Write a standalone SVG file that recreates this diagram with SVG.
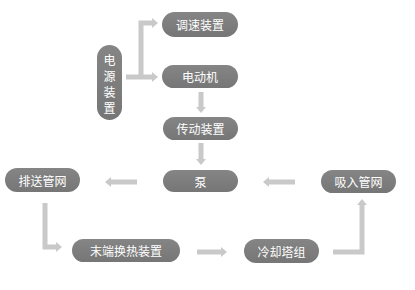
<svg xmlns="http://www.w3.org/2000/svg" width="415" height="290" viewBox="0 0 415 290">
<style>
.n rect{fill:url(#g);}
.n text{fill:#ffffff;font-family:"Noto Sans CJK SC","Liberation Sans",sans-serif;font-size:12px;text-anchor:middle;dominant-baseline:central;}
.c path{fill:none;stroke:#c9c9c9;stroke-width:5;}
</style>
<defs>
<linearGradient id="g" x1="0" y1="0" x2="0" y2="1">
<stop offset="0" stop-color="#858585"/>
<stop offset="1" stop-color="#767676"/>
</linearGradient>
<marker id="a" viewBox="0 0 6 10" refX="0" refY="5" markerWidth="6" markerHeight="10" markerUnits="userSpaceOnUse" orient="auto">
<path d="M0,0 L6,5 L0,10 Z" fill="#c9c9c9"/>
</marker>
</defs>
<rect width="415" height="290" fill="#ffffff"/>
<g class="c" id="connectors">
<path d="M126,77 H152" marker-end="url(#a)"/>
<path d="M141,77 V23 H152" marker-end="url(#a)"/>
<path d="M201,92 V107" marker-end="url(#a)"/>
<path d="M201,143 V159" marker-end="url(#a)"/>
<path d="M295,182 H269" marker-end="url(#a)"/>
<path d="M137,182 H111" marker-end="url(#a)"/>
<path d="M45,203 V247 H56" marker-end="url(#a)"/>
<path d="M197,252 H221" marker-end="url(#a)"/>
<path d="M333,252 H362 V205" marker-end="url(#a)"/>
</g>
<g class="n" id="n_power"><rect x="97" y="45" width="25" height="75" rx="12.5"/>
<text x="109.5" y="59">电</text><text x="109.5" y="75">源</text><text x="109.5" y="91">装</text><text x="109.5" y="107">置</text></g>
<g class="n" id="n_speed"><rect x="162" y="12" width="76" height="25" rx="12.5"/><text x="200" y="24.5">调速装置</text></g>
<g class="n" id="n_motor"><rect x="162" y="65" width="76" height="23" rx="11.5"/><text x="200" y="76.5">电动机</text></g>
<g class="n" id="n_trans"><rect x="163" y="117" width="75" height="23" rx="11.5"/><text x="200.5" y="128.5">传动装置</text></g>
<g class="n" id="n_pump"><rect x="163" y="170" width="75" height="22" rx="11"/><text x="200.5" y="181">泵</text></g>
<g class="n" id="n_out"><rect x="5" y="168" width="75" height="24" rx="12"/><text x="42.5" y="180">排送管网</text></g>
<g class="n" id="n_in"><rect x="321" y="170" width="75" height="23" rx="11.5"/><text x="358.5" y="181.5">吸入管网</text></g>
<g class="n" id="n_end"><rect x="72" y="239" width="108" height="23" rx="11.5"/><text x="126" y="250.5">末端换热装置</text></g>
<g class="n" id="n_cool"><rect x="244" y="239" width="75" height="24" rx="12"/><text x="281.5" y="251">冷却塔组</text></g>
</svg>
